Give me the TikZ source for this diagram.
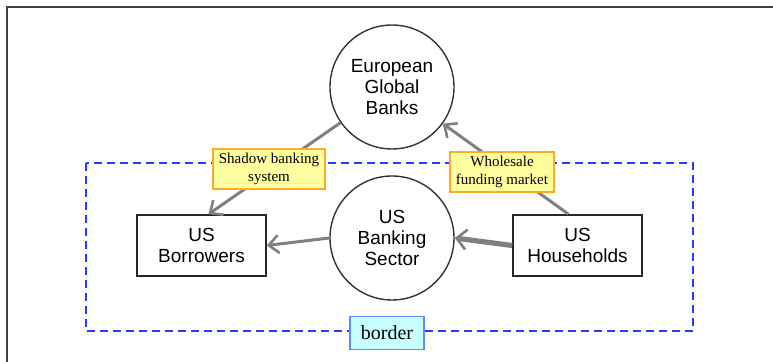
\documentclass[tikz,border=0pt]{standalone}
\usepackage{fontspec}
\setmainfont{Liberation Serif}
\newfontfamily\arialfont{Liberation Sans}
\usetikzlibrary{arrows.meta,calc}
\definecolor{arrowgray}{RGB}{128,128,128}
\definecolor{tagfill}{RGB}{255,255,160}
\definecolor{tagline}{RGB}{255,170,40}
\definecolor{borderfill}{RGB}{200,255,255}
\definecolor{borderline}{RGB}{90,140,255}
\definecolor{dashblue}{RGB}{40,60,255}
\tikzset{
  actor/.style={circle,draw=black!80,line width=0.7pt,minimum size=62pt,inner sep=0pt,
    align=center,font=\arialfont\fontsize{9.5}{10.5}\selectfont},
  sector/.style={rectangle,draw=black!85,line width=0.8pt,minimum width=64.5pt,minimum height=30.5pt,
    inner sep=0pt,align=center,font=\arialfont\fontsize{9.5}{10.5}\selectfont},
  tag/.style={rectangle,draw=tagline,fill=tagfill,line width=0.8pt,align=center,
    inner xsep=3pt,inner ysep=2pt,font=\fontsize{7.5}{9}\selectfont},
  bordertag/.style={rectangle,draw=borderline,fill=borderfill,line width=0.7pt,
    minimum width=37pt,minimum height=16.5pt,inner sep=0pt,font=\fontsize{10}{12}\selectfont},
  flow/.style={draw=arrowgray,line width=1.5pt,-{Straight Barb[length=5pt,width=9pt,line width=1.3pt]}},
  bigflow/.style={draw=arrowgray,line width=2.6pt,-{Straight Barb[length=5pt,width=10pt,line width=1.3pt]}},
}
\begin{document}
\begin{tikzpicture}[x=0.5pt,y=-0.5pt]
\useasboundingbox (0,0) rectangle (773,362);
% outer frame
\draw[black!75,line width=1pt] (7,7) rectangle (800,380);
% national border
\draw[dashblue,line width=1pt,dash pattern=on 4pt off 2.5pt] (86,163) rectangle (693,331);
% actors
\node[actor] (egb) at (392,87) {European\\Global\\Banks};
\node[actor] (usb) at (392,238) {US\\Banking\\Sector};
\node[sector] (bor) at (201.5,245.5) {US\\Borrowers};
\node[sector] (hh) at (577.5,245.5) {US\\Households};
% flows
\coordinate (borin) at ($(bor.north)+(7,0)$);
\coordinate (hhout) at ($(hh.north)+(-9,0)$);
\draw[flow] (egb) -- (borin);
\draw[flow] (hhout) -- (egb);
\draw[flow] (usb.west) -- (bor.east);
\draw[bigflow] (hh.west) -- (usb.east);
% labels
\node[tag] (sbs) at (269,169) {Shadow banking\\system};
\node[tag] (wfm) at (502,172) {Wholesale\\funding market};
\node[bordertag] (brd) at (387,333) {border};
\end{tikzpicture}
\end{document}
